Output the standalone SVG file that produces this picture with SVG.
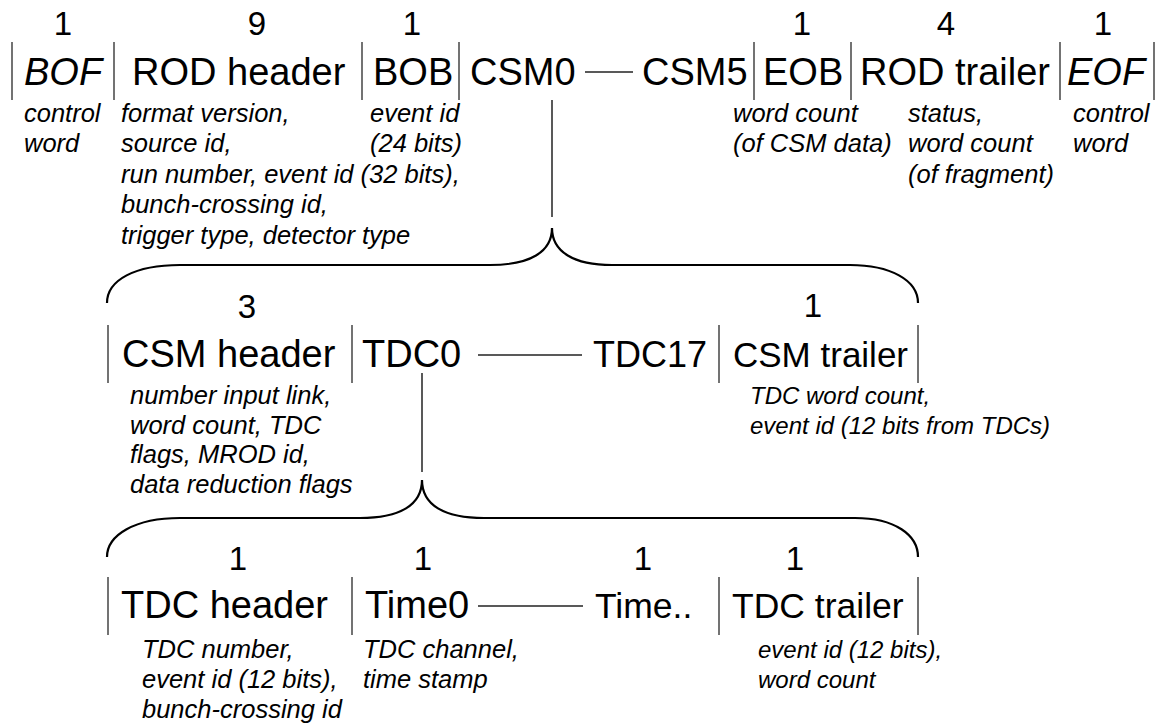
<svg xmlns="http://www.w3.org/2000/svg" width="1158" height="728" viewBox="0 0 1158 728">
<style>
.lbl{font-family:"Liberation Sans",Arial,sans-serif;font-size:38px;fill:#000}
.it{font-style:italic}
.num{font-family:"Liberation Sans",Arial,sans-serif;font-size:33px;fill:#000;text-anchor:middle}
.d{font-family:"Liberation Sans",Arial,sans-serif;font-size:25.5px;font-style:italic;fill:#000}
.ds{font-size:24px}
.bar{stroke:#444;stroke-width:1.5;fill:none}
.ln{stroke:#222;stroke-width:1.5;fill:none}
.br{stroke:#000;stroke-width:2.2;fill:none}
</style>
<rect width="1158" height="728" fill="#fff"/>
<g id="connectors">
<line class="ln" x1="552" y1="100" x2="552" y2="217"/>
<line class="ln" x1="422" y1="373" x2="422" y2="472"/>
<line class="ln" x1="585" y1="72" x2="633" y2="72"/>
<line class="ln" x1="478" y1="355" x2="582" y2="355"/>
<line class="ln" x1="478" y1="606" x2="583" y2="606"/>
<path class="br" d="M107,303 C107,280 135,265 180,265 L490,265 C530,265 552,252 552,228 C552,252 574,265 612,265 L850,265 C890,265 918,280 918,303"/>
<path class="br" d="M107,557 C107,535 135,518 180,518 L360,518 C400,518 422,505 422,480 C422,505 444,518 484,518 L855,518 C895,518 918,535 918,557"/>
</g>
<g id="bars">
<line class="bar" x1="12" y1="42" x2="12" y2="100"/>
<line class="bar" x1="114" y1="42" x2="114" y2="100"/>
<line class="bar" x1="362" y1="42" x2="362" y2="100"/>
<line class="bar" x1="459" y1="42" x2="459" y2="100"/>
<line class="bar" x1="754" y1="42" x2="754" y2="100"/>
<line class="bar" x1="851" y1="42" x2="851" y2="100"/>
<line class="bar" x1="1060" y1="42" x2="1060" y2="100"/>
<line class="bar" x1="1154" y1="42" x2="1154" y2="100"/>
<line class="bar" x1="108" y1="325" x2="108" y2="383"/>
<line class="bar" x1="352" y1="325" x2="352" y2="383"/>
<line class="bar" x1="719" y1="325" x2="719" y2="383"/>
<line class="bar" x1="918" y1="325" x2="918" y2="383"/>
<line class="bar" x1="108" y1="577" x2="108" y2="635"/>
<line class="bar" x1="352" y1="577" x2="352" y2="635"/>
<line class="bar" x1="719" y1="577" x2="719" y2="635"/>
<line class="bar" x1="918" y1="577" x2="918" y2="635"/>
</g>
<g id="BOF">
<text class="num" x="63" y="35">1</text>
<text class="lbl it" x="24" y="85">BOF</text>
<text class="d" x="24" y="122">control</text>
<text class="d" x="24" y="152">word</text>
</g>
<g id="RODheader">
<text class="num" x="257" y="35">9</text>
<text class="lbl" x="132" y="85">ROD header</text>
<text class="d" x="121" y="122">format version,</text>
<text class="d" x="121" y="152">source id,</text>
<text class="d" x="121" y="183">run number, event id (32 bits),</text>
<text class="d" x="121" y="213">bunch-crossing id,</text>
<text class="d" x="121" y="244">trigger type, detector type</text>
</g>
<g id="BOB">
<text class="num" x="412" y="35">1</text>
<text class="lbl" x="373" y="85">BOB</text>
<text class="d" x="370" y="122">event id</text>
<text class="d" x="370" y="152">(24 bits)</text>
</g>
<g id="CSM0"><text class="lbl" x="470" y="85">CSM0</text></g>
<g id="CSM5"><text class="lbl" x="642" y="85">CSM5</text></g>
<g id="EOB">
<text class="num" x="802" y="35">1</text>
<text class="lbl" x="763" y="85">EOB</text>
<text class="d" x="733" y="122">word count</text>
<text class="d" x="733" y="152">(of CSM data)</text>
</g>
<g id="RODtrailer">
<text class="num" x="946" y="35">4</text>
<text class="lbl" x="860" y="85">ROD trailer</text>
<text class="d" x="908" y="122">status,</text>
<text class="d" x="908" y="152">word count</text>
<text class="d" x="908" y="183">(of fragment)</text>
</g>
<g id="EOF">
<text class="num" x="1103" y="35">1</text>
<text class="lbl it" x="1067" y="85">EOF</text>
<text class="d" x="1073" y="122">control</text>
<text class="d" x="1073" y="152">word</text>
</g>
<g id="CSMheader">
<text class="num" x="247" y="318">3</text>
<text class="lbl" x="122" y="367">CSM header</text>
<text class="d" x="130" y="404">number input link,</text>
<text class="d" x="130" y="434">word count, TDC</text>
<text class="d" x="130" y="463">flags, MROD id,</text>
<text class="d" x="130" y="493">data reduction flags</text>
</g>
<g id="TDC0"><text class="lbl" x="362" y="367">TDC0</text></g>
<g id="TDC17"><text class="lbl" x="593" y="367" style="font-size:36px">TDC17</text></g>
<g id="CSMtrailer">
<text class="num" x="813" y="317">1</text>
<text class="lbl" x="733" y="367" style="font-size:35px">CSM trailer</text>
<text class="d ds" x="750" y="404">TDC word count,</text>
<text class="d ds" x="750" y="434">event id (12 bits from TDCs)</text>
</g>
<g id="TDCheader">
<text class="num" x="238" y="570">1</text>
<text class="lbl" x="121" y="618">TDC header</text>
<text class="d" x="142" y="658">TDC number,</text>
<text class="d" x="142" y="688">event id (12 bits),</text>
<text class="d" x="142" y="718">bunch-crossing id</text>
</g>
<g id="Time0">
<text class="num" x="423" y="570">1</text>
<text class="lbl" x="365" y="618">Time0</text>
<text class="d" x="363" y="658">TDC channel,</text>
<text class="d" x="363" y="688">time stamp</text>
</g>
<g id="TimeN">
<text class="num" x="643" y="570">1</text>
<text class="lbl" x="595" y="618" style="font-size:35.5px">Time..</text>
</g>
<g id="TDCtrailer">
<text class="num" x="795" y="570">1</text>
<text class="lbl" x="732" y="618" style="font-size:35.5px">TDC trailer</text>
<text class="d ds" x="758" y="658">event id (12 bits),</text>
<text class="d ds" x="758" y="688">word count</text>
</g>
</svg>
